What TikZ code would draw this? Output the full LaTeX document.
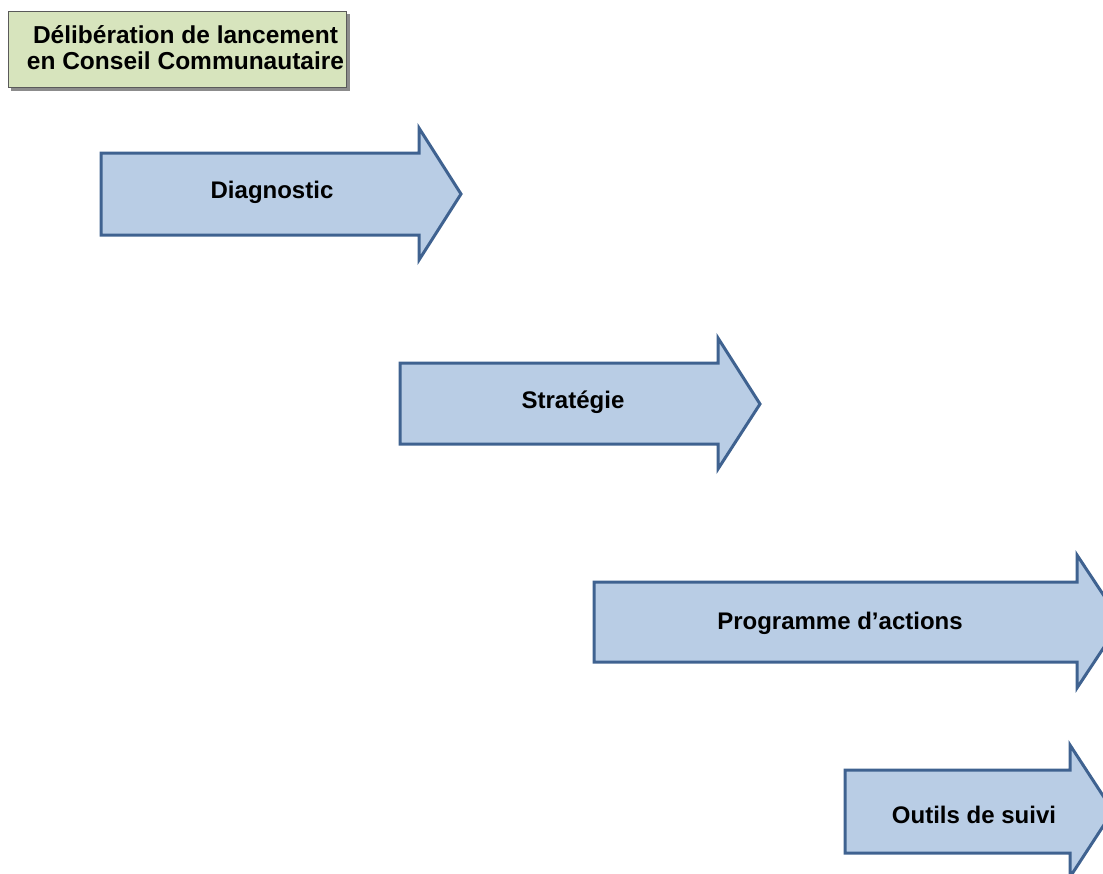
\documentclass[tikz,border=0pt]{standalone}
\usepackage{fontspec}
\setmainfont{Liberation Sans}
\definecolor{arrfill}{HTML}{B9CDE5}
\definecolor{arrline}{HTML}{3F6290}
\definecolor{boxfill}{HTML}{D7E4BD}
\definecolor{boxline}{HTML}{5A5A5A}
\begin{document}
\begin{tikzpicture}[x=1pt,y=-1pt,
  stagearrow/.style={fill=arrfill,draw=arrline,line width=3pt,line join=miter},
  stagelabel/.style={font=\fontsize{24}{26}\selectfont\bfseries,text=black,inner sep=0pt},
  launchbox/.style={fill=boxfill,draw=boxline,line width=1.2pt,minimum width=338pt,minimum height=76pt,inner sep=0pt},
  launchtext/.style={align=center,inner sep=0pt,font=\fontsize{24.5}{26}\selectfont\bfseries}]
\useasboundingbox (0,0) rectangle (1103,873);
\clip (0,0) rectangle (1103,873);
% launch box
\fill[black!45] (10.5,13.5) rectangle (349.5,90.5);
\node[launchbox] (launch) at (177.5,49.5) {};
\node[launchtext] (launchlabel) at (185.5,48) {Délibération de lancement\\en Conseil Communautaire};
% Diagnostic
\draw[stagearrow] (101,153) -- (419,153) -- (419,128) -- (461,194) -- (419,260) -- (419,235) -- (101,235) -- cycle;
\node[stagelabel] (diag) at (272,192) {Diagnostic};
% Strategie
\draw[stagearrow] (400,363) -- (718,363) -- (718,338) -- (760,404) -- (718,469) -- (718,444) -- (400,444) -- cycle;
\node[stagelabel] (strat) at (573,402) {Stratégie};
% Programme
\draw[stagearrow] (594,582) -- (1077,582) -- (1077,555) -- (1121,621.5) -- (1077,688) -- (1077,662) -- (594,662) -- cycle;
\node[stagelabel] (prog) at (840,623) {Programme d’actions};
% Outils
\draw[stagearrow] (845,770) -- (1070,770) -- (1070,745) -- (1113,811) -- (1070,877) -- (1070,853) -- (845,853) -- cycle;
\node[stagelabel] (outils) at (974,815) {Outils de suivi};
\end{tikzpicture}
\end{document}
